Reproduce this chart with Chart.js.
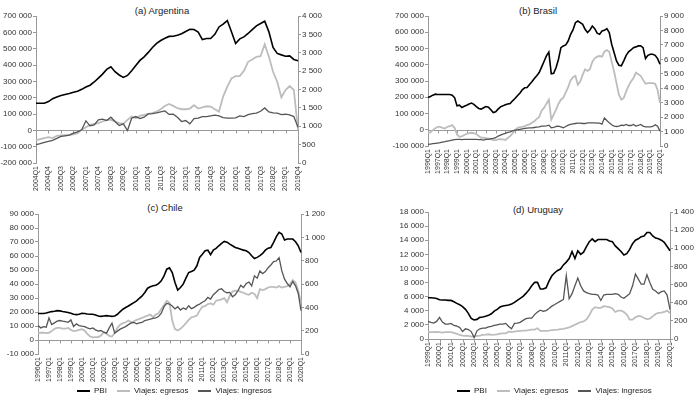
<!DOCTYPE html>
<html>
<head>
<meta charset="utf-8">
<script src="https://cdn.jsdelivr.net/npm/chart.js@4.4.0/dist/chart.umd.min.js"></script>
<style>
  body { margin: 0; background: #fff; width: 700px; height: 407px; position: relative; overflow: hidden;
         font-family: "Liberation Sans", Arial, sans-serif; color: #222; }
  canvas { position: absolute; }
  .ttl { position: absolute; font-size: 9.5px; line-height: 12px; white-space: nowrap; transform: translateX(-50%); }
  .lgd { position: absolute; top: 385px; font-size: 8px; line-height: 12px; white-space: nowrap; }
  .lgd i { display: inline-block; width: 13px; height: 2px; vertical-align: middle; margin: 0 4px 0 10px; }
  .lgd i:first-child { margin-left: 0; }
</style>
</head>
<body>
<div class="ttl" style="left:162px;top:5px">(a) Argentina</div>
<div class="ttl" style="left:538px;top:5px">(b) Brasil</div>
<div class="ttl" style="left:165px;top:202px">(c) Chile</div>
<div class="ttl" style="left:538px;top:204px">(d) Uruguay</div>

<canvas id="cA" width="340" height="200" style="left:0;top:0"></canvas>
<canvas id="cB" width="350" height="190" style="left:350px;top:0"></canvas>
<canvas id="cC" width="340" height="195" style="left:0;top:195px"></canvas>
<canvas id="cD" width="350" height="185" style="left:350px;top:195px"></canvas>

<div class="lgd" style="left:77px"><i style="background:#000"></i>PBI<i style="background:#bdbdbd"></i>Viajes: egresos<i style="background:#555"></i>Viajes: ingresos</div>
<div class="lgd" style="left:457px"><i style="background:#000"></i>PBI<i style="background:#bdbdbd"></i>Viajes: egresos<i style="background:#555"></i>Viajes: ingresos</div>

<script>
// Argentina 2004Q1 - 2019Q4
const arPBI = [166000,166000,166000,176000,194000,204000,213000,219000,225000,233000,
  239000,251000,265000,276000,296000,320000,344000,373000,389000,359000,
  339000,324000,336000,365000,397000,428000,450000,477000,507000,532000,
  550000,564000,575000,576000,582000,591000,605000,619000,617000,601000,
  556000,562000,562000,588000,633000,650000,672000,603000,532000,560000,
  572000,593000,617000,640000,654000,668000,603000,507000,471000,462000,
  454000,456000,434000,426000];
const arEgresos = [614,650,677,705,677,740,750,760,767,777,
  813,903,975,1038,1066,1084,1129,1174,1174,1129,
  1084,1066,1174,1264,1219,1282,1309,1336,1355,1400,
  1463,1553,1605,1553,1490,1463,1463,1481,1571,1481,
  1517,1544,1535,1463,1400,1806,2077,2303,2366,2366,
  2510,2754,2817,2890,2908,3230,2890,2483,2212,1788,
  1987,2095,1987,900];
const arIngresos = [497,524,560,587,614,668,722,740,759,813,
  849,903,1147,1011,1038,1174,1192,1156,1246,1129,
  1020,1066,885,1219,1264,1210,1246,1336,1345,1364,
  1391,1418,1322,1327,1246,1129,1156,1066,1210,1219,
  1264,1264,1282,1300,1282,1237,1219,1219,1228,1282,
  1264,1318,1345,1355,1409,1499,1391,1364,1355,1318,
  1327,1309,1264,975];

// Brasil 1996Q1 - 2020Q1
const brPBI = [199000,205000,213000,219000,217000,217000,217000,217000,217000,217000,213000,198000,
  147000,151000,137000,145000,151000,158000,164000,156000,143000,131000,127000,135000,
  143000,139000,123000,106000,110000,127000,141000,147000,154000,158000,162000,178000,
  192000,209000,225000,246000,258000,260000,278000,295000,315000,332000,352000,385000,
  420000,455000,478000,345000,348000,383000,434000,505000,516000,522000,546000,587000,
  614000,659000,669000,659000,649000,618000,598000,614000,638000,622000,594000,587000,
  608000,612000,622000,598000,526000,475000,424000,397000,393000,424000,458000,479000,
  491000,505000,510000,516000,516000,505000,438000,458000,465000,465000,458000,438000,403000];
const brEgresos = [916,939,1099,1237,1328,1328,1260,1214,1328,1374,1443,1260,
  801,641,664,756,847,893,916,893,824,687,572,572,
  550,504,458,412,412,458,481,458,412,550,687,870,
  1099,1237,1305,1328,1374,1443,1489,1603,1718,1878,2015,2440,
  2634,2931,3206,1832,2176,2519,2931,3206,3343,3710,4076,4534,
  4763,4855,4237,4466,4924,5313,5198,5313,5840,6069,6183,6229,
  6183,6527,6641,6527,5840,5153,4351,3550,3206,3321,3779,4168,
  4466,4695,5084,4969,4855,4580,4305,4351,4351,4351,4305,3893,2977];
const brIngresos = [115,137,160,183,206,229,275,298,344,366,412,435,
  458,458,435,458,458,458,458,458,458,435,435,412,
  458,458,504,527,572,687,756,824,870,939,985,1053,
  1099,1122,1145,1191,1214,1237,1260,1260,1282,1305,1328,1374,
  1374,1397,1443,1260,1282,1351,1374,1328,1260,1351,1443,1489,
  1534,1557,1580,1580,1557,1557,1603,1603,1603,1603,1580,1580,
  1511,1946,1763,1603,1466,1374,1351,1374,1443,1420,1489,1420,
  1420,1489,1374,1420,1489,1374,1328,1328,1328,1351,1466,1374,1030];

// Chile 1996Q1 - 2020Q1
const clPBI = [18900,18900,18900,19300,19800,20300,20500,21000,20800,20300,20000,19600,
  19100,18400,18100,18400,19100,18900,18600,18400,18400,17900,17200,16900,
  17200,17400,17200,16900,17200,18400,20300,22000,23200,24300,25500,26700,
  27900,29800,31500,33900,37000,38000,38700,39100,40300,42300,45800,50600,
  51500,48200,41100,35600,37500,39900,44200,48200,48900,49900,53000,59000,
  61300,63700,64200,60900,64200,65400,67300,69000,70400,69900,68500,67300,
  66100,65600,64900,64200,63700,62500,60200,58200,59000,60200,61800,64200,
  65600,66100,69700,73800,76900,75700,71400,72100,72100,72100,70200,67300,62500];
const clEgresos = [179,182,184,179,182,196,216,224,224,218,218,224,
  207,196,201,207,213,201,173,150,142,145,145,159,
  187,173,156,150,179,224,252,264,272,287,272,281,
  292,301,309,321,329,338,315,338,349,386,420,457,
  440,287,213,201,216,238,264,292,315,321,329,372,
  406,411,428,434,423,457,462,468,479,443,499,536,
  542,542,533,525,514,508,525,514,479,556,548,556,
  570,576,576,570,582,570,576,582,599,633,613,542,440];
const clIngresos = [244,224,235,230,309,252,267,281,287,281,278,272,
  292,235,258,244,238,235,224,216,224,207,196,201,
  187,179,224,264,179,196,213,224,235,252,267,270,
  258,267,272,287,292,298,306,309,321,349,406,434,
  428,411,386,406,377,394,383,414,389,400,417,428,
  443,457,485,471,508,530,553,559,536,525,528,491,
  508,542,590,570,604,616,584,670,650,712,689,706,
  740,763,792,797,826,712,641,604,576,621,584,519,372];

// Uruguay 1999Q1 - 2020Q1
const uyPBI = [5850,5850,5800,5750,5570,5520,5520,5470,5470,5280,5050,4860,
  4580,4200,3630,2920,2690,2780,3070,3110,3210,3350,3580,3960,
  4200,4530,4670,4760,4810,4950,5190,5470,5750,6040,6460,6930,
  7550,8020,8020,7080,7080,7260,8210,8960,9390,9720,9910,10500,
  10900,11400,12400,11400,12500,12000,12300,13100,13800,14200,13800,14100,
  14100,14100,14100,13900,13800,13200,12800,12400,11900,12100,12700,13500,
  14000,14200,14500,14600,15100,15100,14600,14300,14200,14000,13700,13100,12500];
const uyEgresos = [75,75,75,78,75,71,75,75,75,67,56,45,
  37,34,34,26,26,34,37,45,48,52,45,48,
  52,60,63,63,82,78,82,86,90,93,93,97,
  104,104,119,90,90,90,93,97,101,104,108,112,
  119,127,142,157,172,187,194,216,261,325,351,343,
  343,362,358,351,336,298,313,313,298,269,213,213,
  239,254,250,231,220,224,250,276,287,291,298,313,287];
const uyIngresos = [194,183,175,194,239,187,164,164,172,149,142,127,
  82,112,104,82,15,90,112,119,119,134,138,149,
  157,164,164,172,138,112,172,175,183,205,224,231,
  231,269,298,317,306,313,336,362,380,399,418,436,
  698,444,500,586,671,586,530,511,500,492,492,485,
  425,485,492,492,492,500,492,463,448,474,500,586,
  716,660,604,604,709,623,548,530,500,522,530,485,325];

function quarters(year, n) {
  const out = [];
  for (let i = 0; i < n; i++) out.push((year + Math.floor(i / 4)) + "Q" + (i % 4 + 1));
  return out;
}

// numeros con espacio como separador de miles
function fmt(v) {
  const s = Math.abs(v).toString().replace(/\B(?=(\d{3})+(?!\d))/g, " ");
  return (v < 0 ? "-" : "") + s;
}

Chart.defaults.font.family = '"Liberation Sans", Arial, sans-serif';
Chart.defaults.font.size = 8;
Chart.defaults.color = "#333";

// linea del cero con marcas de las categorias
const zeroAxis = {
  id: "zeroAxis",
  beforeDatasetsDraw(chart, args, opts) {
    const { ctx, chartArea: a, scales: { x, y } } = chart;
    const y0 = Math.round(y.getPixelForValue(0)) + 0.5;
    ctx.save();
    ctx.strokeStyle = "#999";
    ctx.lineWidth = 1;
    ctx.beginPath();
    ctx.moveTo(a.left, y0);
    ctx.lineTo(a.right, y0);
    for (let i = 0; i < chart.data.labels.length; i += opts.every) {
      const px = Math.round(x.getPixelForValue(i)) + 0.5;
      ctx.moveTo(px, y0);
      ctx.lineTo(px, y0 + 3);
    }
    ctx.stroke();
    ctx.restore();
  },
};

function axis(pos, range, width) {
  return {
    position: pos,
    min: range[0],
    max: range[1],
    ticks: { stepSize: range[2], callback: fmt, padding: 1, autoSkip: false },
    grid: { drawOnChartArea: false, tickLength: 3, color: "#999" },
    border: { color: "#999" },
    afterFit(s) { s.width = width; },
  };
}

function build(id, labels, pbi, egr, ing, o) {
  new Chart(document.getElementById(id), {
    type: "line",
    data: {
      labels,
      datasets: [
        { label: "PBI", data: pbi, yAxisID: "y", borderColor: "#000", borderWidth: 1.6, order: 0 },
        { label: "Viajes: egresos", data: egr, yAxisID: "y1", borderColor: "#bdbdbd", borderWidth: 1.8, order: 2 },
        { label: "Viajes: ingresos", data: ing, yAxisID: "y1", borderColor: "#555", borderWidth: 1.3, order: 1 },
      ],
    },
    options: {
      responsive: false,
      animation: false,
      elements: { point: { radius: 0 }, line: { tension: 0 } },
      layout: { padding: { top: o.top, left: 0, right: 0, bottom: 0 } },
      plugins: { legend: { display: false }, tooltip: { enabled: false }, zeroAxis: { every: o.every } },
      scales: {
        x: {
          grid: { display: false, drawTicks: false },
          border: { display: false },
          ticks: {
            autoSkip: false, minRotation: 90, maxRotation: 90, padding: 3,
            font: { size: 7 },
            callback: (v, i) => (i % o.every === 0 ? labels[i] : null),
          },
          afterFit(s) { s.height = o.xh; },
        },
        y: axis("left", o.left, o.lw),
        y1: axis("right", o.right, o.rw),
      },
    },
    plugins: [zeroAxis],
  });
}

build("cA", quarters(2004, 64), arPBI, arEgresos, arIngresos,
  { top: 16, xh: 37, lw: 36, rw: 42, every: 3, left: [-200000, 700000, 100000], right: [0, 4000, 500] });
build("cB", quarters(1996, 97), brPBI, brEgresos, brIngresos,
  { top: 16, xh: 44, lw: 78, rw: 40, every: 4, left: [-100000, 700000, 100000], right: [0, 9000, 1000] });
build("cC", quarters(1996, 97), clPBI, clEgresos, clIngresos,
  { top: 19, xh: 36, lw: 38, rw: 39, every: 4, left: [-10000, 90000, 10000], right: [0, 1200, 200] });
build("cD", quarters(1999, 85), uyPBI, uyEgresos, uyIngresos,
  { top: 17, xh: 41, lw: 78, rw: 30, every: 4, left: [0, 18000, 2000], right: [0, 1400, 200] });
</script>
</body>
</html>
